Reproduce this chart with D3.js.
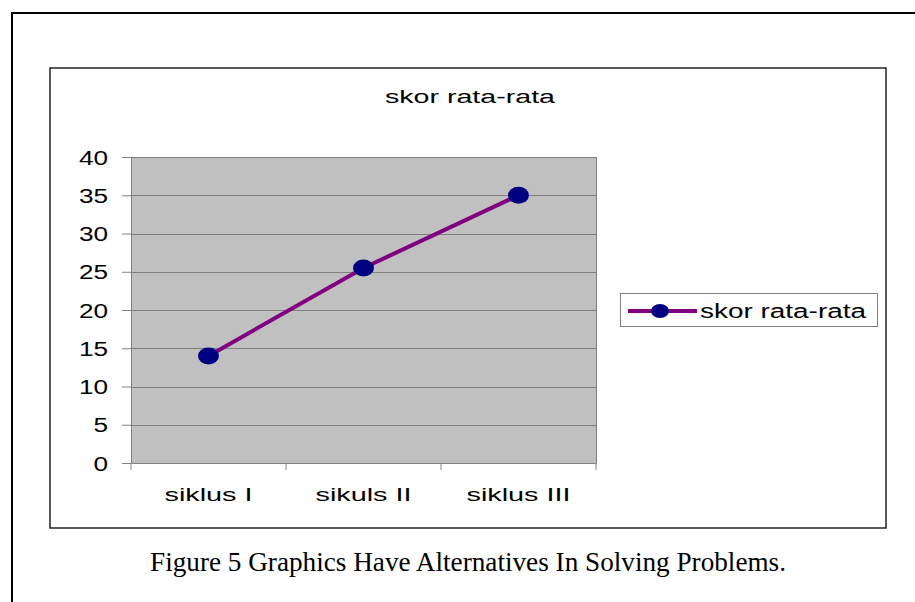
<!DOCTYPE html>
<html><head><meta charset="utf-8">
<script src="https://cdn.jsdelivr.net/npm/d3@7/dist/d3.min.js"></script>
<style>html,body{margin:0;padding:0;background:#fff;}svg{display:block;}</style>
</head><body>
<script>
const categories = ["siklus I", "sikuls II", "siklus III"];
const values = [14, 25.5, 35];
const yTicks = [0, 5, 10, 15, 20, 25, 30, 35, 40];
const seriesName = "skor rata-rata";
const chartTitle = "skor rata-rata";
const caption = "Figure 5 Graphics Have Alternatives In Solving Problems.";

const W = 915, H = 602;
const SANS = "'Liberation Sans', Arial, sans-serif";
const svg = d3.select("body").append("svg").attr("width", W).attr("height", H);

function stretch(sel, factor) {
  sel.each(function () {
    const w = this.getComputedTextLength();
    d3.select(this).attr("textLength", w * factor).attr("lengthAdjust", "spacingAndGlyphs");
  });
}

// outer frame (top + left lines)
svg.append("path").attr("d", `M12,${H} L12,13 L${W},13`).attr("fill", "none").attr("stroke", "#000").attr("stroke-width", 2);

// chart box
svg.append("rect").attr("x", 50).attr("y", 68).attr("width", 836).attr("height", 460)
  .attr("fill", "#fff").attr("stroke", "#222").attr("stroke-width", 1.5);

const plot = {left: 131, right: 596, top: 157, bottom: 463};
const x = d3.scaleBand().domain(categories).range([plot.left, plot.right]);
const y = d3.scaleLinear().domain([0, 40]).range([plot.bottom, plot.top]);

svg.append("rect").attr("x", plot.left).attr("y", plot.top)
  .attr("width", plot.right - plot.left).attr("height", plot.bottom - plot.top)
  .attr("fill", "#c0c0c0");

// gridlines
svg.append("g").selectAll("line").data(yTicks.filter(d => d > 0)).join("line")
  .attr("x1", plot.left).attr("x2", plot.right)
  .attr("y1", d => Math.round(y(d)) + 0.5).attr("y2", d => Math.round(y(d)) + 0.5)
  .attr("stroke", "#808080").attr("stroke-width", 1);
svg.append("line").attr("x1", plot.right + 0.5).attr("x2", plot.right + 0.5)
  .attr("y1", plot.top).attr("y2", plot.bottom).attr("stroke", "#808080");

// y axis
const yAxis = svg.append("g").attr("transform", `translate(${plot.left},0)`)
  .call(d3.axisLeft(y).tickValues(yTicks).tickSize(9).tickPadding(14).tickSizeOuter(0));
yAxis.select(".domain").attr("stroke", "#808080");
yAxis.selectAll(".tick line").attr("stroke", "#808080");
yAxis.selectAll("text").attr("font-family", SANS).attr("font-size", 19.5).attr("fill", "#000")
  .attr("dy", null).attr("y", 7);
stretch(yAxis.selectAll("text"), 1.34);

// x axis
const xAxis = svg.append("g").attr("transform", `translate(0,${plot.bottom})`)
  .call(d3.axisBottom(x).tickSize(0).tickPadding(0));
xAxis.select(".domain").attr("stroke", "#808080");
xAxis.selectAll("text").attr("font-family", SANS).attr("font-size", 18).attr("fill", "#000")
  .attr("dy", null).attr("y", 38);
stretch(xAxis.selectAll("text"), 1.6);
const bounds = [plot.left, ...categories.map(c => x(c) + x.bandwidth())];
xAxis.append("g").selectAll("line").data(bounds).join("line")
  .attr("x1", d => d).attr("x2", d => d).attr("y1", 0).attr("y2", 7).attr("stroke", "#808080");

// line
const line = d3.line().x((d, i) => x(categories[i]) + x.bandwidth() / 2).y(d => y(d));
svg.append("path").datum(values).attr("d", line).attr("fill", "none")
  .attr("stroke", "#800080").attr("stroke-width", 4);
svg.append("g").selectAll("ellipse").data(values).join("ellipse")
  .attr("cx", (d, i) => x(categories[i]) + x.bandwidth() / 2).attr("cy", d => y(d))
  .attr("rx", 10.5).attr("ry", 8.5).attr("fill", "#000080");

// title
svg.append("text").attr("x", 470).attr("y", 103).attr("text-anchor", "middle")
  .attr("font-family", SANS).attr("font-size", 18).text(chartTitle)
  .attr("textLength", 170).attr("lengthAdjust", "spacingAndGlyphs");

// legend
const lg = svg.append("g");
lg.append("rect").attr("x", 620.5).attr("y", 293.5).attr("width", 257).attr("height", 33)
  .attr("fill", "#fff").attr("stroke", "#808080").attr("stroke-width", 1);
lg.append("line").attr("x1", 628).attr("x2", 697).attr("y1", 311).attr("y2", 311)
  .attr("stroke", "#800080").attr("stroke-width", 4);
lg.append("ellipse").attr("cx", 660).attr("cy", 311).attr("rx", 9).attr("ry", 7).attr("fill", "#000080");
lg.append("text").attr("x", 700).attr("y", 318)
  .attr("font-family", SANS).attr("font-size", 20).text(seriesName)
  .attr("textLength", 166).attr("lengthAdjust", "spacingAndGlyphs");

// caption
svg.append("text").attr("x", 468).attr("y", 571).attr("text-anchor", "middle")
  .attr("font-family", "'Liberation Serif', 'Times New Roman', serif").attr("font-size", 27).text(caption)
  .attr("textLength", 636).attr("lengthAdjust", "spacingAndGlyphs");
</script>
</body></html>
